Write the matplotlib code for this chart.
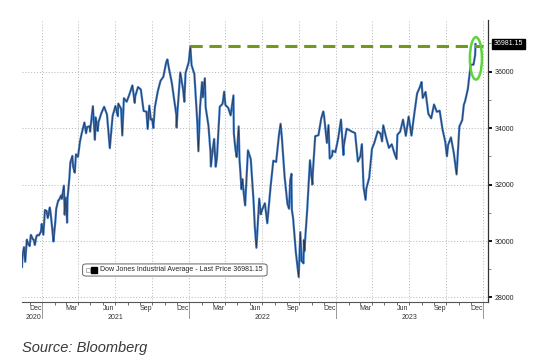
import matplotlib.pyplot as plt
import matplotlib.dates as mdates
import matplotlib.transforms as mtransforms
from matplotlib.patches import Ellipse, FancyBboxPatch
import pandas as pd

# Dow Jones Industrial Average
dates = [
    "2020-11-12", "2020-11-13", "2020-11-17", "2020-11-20", "2020-11-24", "2020-11-27",
    "2020-12-01", "2020-12-04", "2020-12-09", "2020-12-11", "2020-12-14", "2020-12-18",
    "2020-12-21", "2020-12-24", "2020-12-29", "2020-12-31",
    "2021-01-04", "2021-01-08", "2021-01-12", "2021-01-15", "2021-01-20", "2021-01-22",
    "2021-01-27", "2021-01-29", "2021-02-03", "2021-02-05", "2021-02-10", "2021-02-12",
    "2021-02-17", "2021-02-19", "2021-02-24", "2021-02-25", "2021-02-26", "2021-03-01",
    "2021-03-04", "2021-03-05", "2021-03-10", "2021-03-12", "2021-03-17", "2021-03-19",
    "2021-03-23", "2021-03-26", "2021-03-31", "2021-04-05", "2021-04-09", "2021-04-16",
    "2021-04-20", "2021-04-23", "2021-04-29", "2021-04-30", "2021-05-07", "2021-05-12",
    "2021-05-14", "2021-05-19", "2021-05-21", "2021-05-28", "2021-06-04", "2021-06-11",
    "2021-06-18", "2021-06-22", "2021-06-25", "2021-07-02", "2021-07-08", "2021-07-09",
    "2021-07-16", "2021-07-19", "2021-07-23", "2021-07-30", "2021-08-06", "2021-08-13",
    "2021-08-19", "2021-08-20", "2021-08-27", "2021-09-03", "2021-09-10", "2021-09-17",
    "2021-09-20", "2021-09-24", "2021-09-28", "2021-10-01", "2021-10-04", "2021-10-08",
    "2021-10-15", "2021-10-22", "2021-10-29", "2021-11-05", "2021-11-08", "2021-11-12",
    "2021-11-19", "2021-11-26", "2021-11-30", "2021-12-01", "2021-12-03", "2021-12-10",
    "2021-12-17", "2021-12-20", "2021-12-23", "2021-12-31",
    "2022-01-04", "2022-01-07", "2022-01-14", "2022-01-21", "2022-01-24", "2022-01-28",
    "2022-02-02", "2022-02-04", "2022-02-09", "2022-02-11", "2022-02-18", "2022-02-23",
    "2022-02-24", "2022-03-01", "2022-03-04", "2022-03-08", "2022-03-11", "2022-03-18",
    "2022-03-25", "2022-03-29", "2022-04-01", "2022-04-08", "2022-04-14", "2022-04-21",
    "2022-04-22", "2022-04-26", "2022-04-29", "2022-05-04", "2022-05-06", "2022-05-11",
    "2022-05-13", "2022-05-18", "2022-05-20", "2022-05-27", "2022-06-03", "2022-06-10",
    "2022-06-13", "2022-06-16", "2022-06-17", "2022-06-24", "2022-06-28", "2022-07-01",
    "2022-07-08", "2022-07-14", "2022-07-22", "2022-07-29", "2022-08-05", "2022-08-12",
    "2022-08-16", "2022-08-19", "2022-08-26", "2022-09-02", "2022-09-06", "2022-09-09",
    "2022-09-12", "2022-09-13", "2022-09-16", "2022-09-23", "2022-09-30", "2022-10-04",
    "2022-10-07", "2022-10-12", "2022-10-13", "2022-10-14", "2022-10-21", "2022-10-28",
    "2022-11-03", "2022-11-04", "2022-11-10", "2022-11-18", "2022-11-25", "2022-11-30",
    "2022-12-02", "2022-12-09", "2022-12-13", "2022-12-16", "2022-12-22", "2022-12-23",
    "2022-12-30",
    "2023-01-06", "2023-01-13", "2023-01-19", "2023-01-20", "2023-01-27", "2023-02-03",
    "2023-02-10", "2023-02-17", "2023-02-24", "2023-03-02", "2023-03-06", "2023-03-10",
    "2023-03-15", "2023-03-17", "2023-03-24", "2023-03-31", "2023-04-06", "2023-04-14",
    "2023-04-21", "2023-04-25", "2023-04-28", "2023-05-05", "2023-05-12", "2023-05-19",
    "2023-05-26", "2023-05-31", "2023-06-02", "2023-06-09", "2023-06-16", "2023-06-23",
    "2023-06-30", "2023-07-07", "2023-07-14", "2023-07-21", "2023-07-28", "2023-08-01",
    "2023-08-04", "2023-08-11", "2023-08-18", "2023-08-25", "2023-09-01", "2023-09-08",
    "2023-09-15", "2023-09-22", "2023-09-29", "2023-10-03", "2023-10-06", "2023-10-13",
    "2023-10-20", "2023-10-27", "2023-11-03", "2023-11-10", "2023-11-14", "2023-11-17",
    "2023-11-24", "2023-12-01", "2023-12-08", "2023-12-12", "2023-12-13",
]
prices = [
    29080, 29480, 29784, 29263, 30046, 29910,
    29823, 30218, 30068, 30046, 29861, 30179,
    30216, 30200, 30335, 30606,
    30223, 31098, 31068, 30814, 31188, 30997,
    30303, 29983, 30724, 31148, 31438, 31458,
    31613, 31494, 31962, 31402, 30932, 31535,
    30650, 31496, 32297, 32779, 33015, 32628,
    32423, 33073, 32982, 33527, 33800, 34200,
    33821, 34043, 34060, 33875, 34778, 33587,
    34382, 33896, 34208, 34529, 34756, 34480,
    33290, 33945, 34433, 34786, 34421, 34870,
    34688, 33740, 35061, 34935, 35208, 35515,
    34894, 35120, 35455, 35369, 34607, 34584,
    33970, 34798, 34300, 34326, 34002, 34746,
    35295, 35677, 35820, 36328, 36432, 36100,
    35601, 34899, 34484, 34022, 34580, 35971,
    35365, 34932, 35950, 36338,
    36900, 36231, 35912, 34265, 33180, 34725,
    35630, 35090, 35768, 34739, 34079, 33132,
    32640, 33294, 33615, 32632, 32944, 34755,
    34861, 35294, 34818, 34721, 34451, 35160,
    33811, 33240, 32977, 34061, 32899, 31834,
    32196, 31490, 31262, 33213, 32900, 31393,
    30517, 29927, 29760, 31501, 30947, 31097,
    31338, 30630, 31899, 32845, 32803, 33761,
    34152, 33707, 32283, 31318, 31145, 32151,
    32381, 31105, 30822, 29590, 28725, 30316,
    29297, 29210, 30038, 29635, 31083, 32861,
    32001, 32403, 33716, 33746, 34347, 34590,
    34430, 33477, 34108, 32920, 33027, 33203,
    33147,
    33631, 34303, 33045, 33375, 33978, 33926,
    33869, 33826, 32817, 33003, 33431, 31910,
    31460, 31862, 32238, 33274, 33485, 33886,
    33809, 33531, 34098, 33674, 33300, 33427,
    33093, 32908, 33762, 33877, 34299, 33727,
    34408, 33734, 34509, 35228, 35459, 35630,
    35066, 35281, 34500, 34346, 34838, 34577,
    34618, 33964, 33508, 33002, 33408, 33670,
    33127, 32360, 34061, 34283, 34828, 34947,
    35390, 36245, 36248, 36577, 36981,
]
prior_high = 36900
last_price = 36981.15
y_ticks = [28000, 30000, 32000, 34000, 36000]
years = [2021, 2022, 2023]
legend_label = "Dow Jones Industrial Average - Last Price 36981.15"

dates = pd.to_datetime(dates)

fig = plt.figure(figsize=(5.52, 3.6), dpi=100)
ax = fig.add_axes([22 / 552, 1 - 302 / 360, 466 / 552, 282 / 360])

ax.plot(dates, prices, color="#3f78c0", lw=1.6, zorder=3)
ax.plot(dates, prices, color="#1b1e2c", lw=0.45, alpha=0.8, zorder=4)

# dashed line at the previous record high
ax.plot([pd.Timestamp("2022-01-04"), pd.Timestamp("2024-01-01")], [prior_high, prior_high],
        color="#6f9a1c", lw=2.2, dashes=(4, 2.2), zorder=5)

# green circle around the latest move
ax.add_patch(Ellipse((mdates.date2num(pd.Timestamp("2023-12-14")), 36470), width=30, height=1500,
                     fill=False, ec="#5fd43a", lw=1.8, zorder=6))

ax.set_xlim(pd.Timestamp("2020-11-12"), pd.Timestamp("2024-01-13"))
ax.set_ylim(27840, 37830)

for s in ["left", "top"]:
    ax.spines[s].set_visible(False)
ax.spines["right"].set_color("#333333")
ax.spines["right"].set_linewidth(0.9)
ax.spines["bottom"].set_color("#555555")
ax.spines["bottom"].set_linewidth(0.8)

ax.yaxis.tick_right()
ax.set_yticks(y_ticks)
ax.set_yticklabels([str(v) for v in y_ticks], fontsize=5, family="Liberation Sans", color="#222222")
ax.set_yticks(range(29000, 37001, 2000), minor=True)
ax.tick_params(axis="y", which="major", length=3, width=1.3, color="black", pad=2)
ax.tick_params(axis="y", which="minor", length=2, width=0.6, color="#777777")
ax.grid(axis="y", which="major", color="#b5b5b5", lw=0.7, linestyle=(0, (1, 2)))

# quarter lines
for q in pd.date_range("2021-01-01", "2024-01-01", freq="QS"):
    ax.axvline(q, color="#b5b5b5", lw=0.7, linestyle=(0, (1, 2)), zorder=1)

ax.xaxis.set_major_locator(mdates.MonthLocator(bymonth=[3, 6, 9, 12], bymonthday=15))
ax.xaxis.set_major_formatter(mdates.DateFormatter("%b"))
ax.xaxis.set_minor_locator(mdates.MonthLocator())
ax.tick_params(axis="x", which="major", length=0, labelsize=5, pad=2, labelcolor="#333333")
ax.tick_params(axis="x", which="minor", length=2, width=0.6, color="#555555")
for lab in ax.get_xticklabels():
    lab.set_family("Liberation Sans")

trans = mtransforms.blended_transform_factory(ax.transData, ax.transAxes)
for yr in years:
    ax.plot([pd.Timestamp(f"{yr}-01-01")] * 2, [0, -0.058], transform=trans, color="#999999",
            lw=0.7, clip_on=False)
    ax.text(pd.Timestamp(f"{yr}-07-02"), -0.055, str(yr), transform=trans, ha="center", va="center",
            fontsize=5, family="Liberation Sans", color="#333333")
ax.plot([pd.Timestamp("2024-01-01")] * 2, [0, -0.058], transform=trans, color="#999999",
        lw=0.7, clip_on=False)
ax.text(pd.Timestamp("2020-12-29"), -0.055, "2020", transform=trans, ha="right", va="center",
        fontsize=5, family="Liberation Sans", color="#333333")

# last price tag on the right axis
tag_trans = mtransforms.blended_transform_factory(ax.transAxes, ax.transData)
ax.text(1.012, last_price, f"{last_price:.2f}", transform=tag_trans, ha="left", va="center",
        fontsize=5, family="Liberation Sans", color="white",
        bbox=dict(boxstyle="square,pad=0.25", fc="black", ec="black"))

# legend box
ax.add_patch(FancyBboxPatch((0.130, 0.092), 0.396, 0.043, transform=ax.transAxes,
                            boxstyle="round,pad=0,rounding_size=0.008", fc="white",
                            ec="#666666", lw=0.7, zorder=7))
ax.plot([0.141], [0.1135], transform=ax.transAxes, marker="s", ms=2.2, mfc="white", mec="#999999",
        mew=0.5, zorder=8)
ax.plot([0.154], [0.1135], transform=ax.transAxes, marker="s", ms=4, color="black", zorder=8)
ax.text(0.167, 0.1135, legend_label, transform=ax.transAxes, ha="left", va="center", fontsize=5,
        family="Liberation Sans", color="#222222", zorder=8)

fig.text(22 / 552, 1 - 348 / 360, "Source: Bloomberg", fontsize=10.5, style="italic",
         family="Liberation Sans", color="#3a3a3a", va="center")

fig.savefig("out.png", dpi=100)
